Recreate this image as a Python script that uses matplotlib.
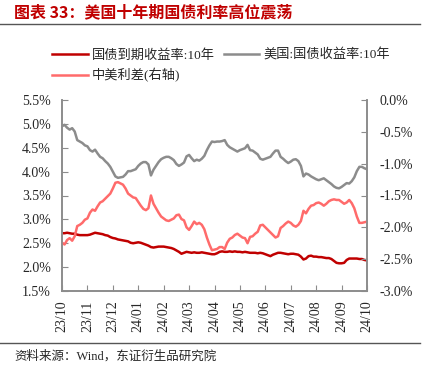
import numpy as np
import matplotlib
matplotlib.use("Agg")
import matplotlib.pyplot as plt
from matplotlib.ticker import FuncFormatter

plt.rcParams["font.family"] = ["Liberation Serif", "Noto Sans CJK SC", "DejaVu Sans"]

# month tick labels, 23/10 .. 24/10
month_labels = ["23/10", "23/11", "23/12", "24/01", "24/02", "24/03", "24/04",
                "24/05", "24/06", "24/07", "24/08", "24/09", "24/10"]

# China 10y government bond yield (%), read every 0.1 month
cn10y = [2.71, 2.71, 2.72, 2.71, 2.70, 2.70, 2.68, 2.67, 2.67, 2.67,
         2.67, 2.68, 2.70, 2.72, 2.71, 2.70, 2.69, 2.67, 2.66, 2.63,
         2.61, 2.60, 2.58, 2.57, 2.56, 2.55, 2.54, 2.51, 2.50, 2.51,
         2.52, 2.51, 2.49, 2.47, 2.45, 2.42, 2.41, 2.42, 2.43, 2.43,
         2.43, 2.42, 2.41, 2.40, 2.38, 2.35, 2.32, 2.28, 2.30, 2.32,
         2.31, 2.30, 2.31, 2.30, 2.30, 2.31, 2.30, 2.29, 2.28, 2.27,
         2.27, 2.29, 2.32, 2.33, 2.32, 2.32, 2.33, 2.32, 2.33, 2.32,
         2.32, 2.31, 2.32, 2.31, 2.30, 2.30, 2.30, 2.29, 2.30, 2.29,
         2.27, 2.25, 2.23, 2.26, 2.28, 2.30, 2.30, 2.29, 2.28, 2.27,
         2.28, 2.28, 2.27, 2.26, 2.22, 2.16, 2.18, 2.23, 2.24, 2.22,
         2.22, 2.21, 2.21, 2.20, 2.19, 2.19, 2.17, 2.13, 2.09, 2.08,
         2.08, 2.09, 2.15, 2.18, 2.18, 2.18, 2.18, 2.17, 2.17, 2.15,
         2.14]

# US 10y treasury yield (%)
us10y = [4.95, 4.98, 4.92, 4.88, 4.91, 4.84, 4.66, 4.63, 4.60, 4.55,
         4.53, 4.45, 4.42, 4.46, 4.38, 4.31, 4.28, 4.22, 4.17, 4.10,
         4.00, 3.90, 3.87, 3.88, 3.89, 3.94, 4.01, 4.01, 4.03, 4.05,
         4.12, 4.17, 4.20, 4.20, 4.15, 3.92, 4.04, 4.12, 4.20, 4.26,
         4.29, 4.31, 4.31, 4.28, 4.24, 4.16, 4.12, 4.15, 4.19, 4.32,
         4.35, 4.28, 4.22, 4.25, 4.23, 4.27, 4.33, 4.45, 4.55, 4.63,
         4.62, 4.63, 4.63, 4.64, 4.66, 4.56, 4.51, 4.48, 4.45, 4.42,
         4.45, 4.47, 4.49, 4.56, 4.45, 4.44, 4.40, 4.36, 4.27, 4.25,
         4.27, 4.29, 4.31, 4.38, 4.44, 4.44, 4.31, 4.27, 4.22, 4.18,
         4.21, 4.25, 4.26, 4.22, 4.12, 3.90, 3.96, 3.94, 3.90, 3.87,
         3.84, 3.82, 3.84, 3.86, 3.82, 3.78, 3.74, 3.69, 3.66, 3.65,
         3.68, 3.72, 3.76, 3.75, 3.80, 3.88, 4.01, 4.10, 4.10, 4.07,
         4.05]

cn10y = np.array(cn10y)
us10y = np.array(us10y)
spread = cn10y - us10y  # 中美利差
x = np.linspace(0, len(month_labels) - 1, len(cn10y))

fig = plt.figure(figsize=(4.25, 3.72), dpi=100)
ax = fig.add_axes([62 / 425, 1 - 291 / 372, 305 / 425, 191 / 372])
ax2 = ax.twinx()

l1, = ax.plot(x, cn10y, color="#C00000", lw=1.8)
l2, = ax.plot(x, us10y, color="#8C8C8C", lw=1.8)
l3, = ax2.plot(x, spread, color="#FF6B6B", lw=1.8)

ax.set_xlim(0, 12)
ax.set_ylim(1.5, 5.5)
ax.set_yticks(np.arange(1.5, 5.51, 0.5))
ax.yaxis.set_major_formatter(FuncFormatter(lambda v, p: f"{v:.1f}%"))
ax2.set_ylim(-3.0, 0.0)
ax2.set_yticks(np.arange(-3.0, 0.01, 0.5))
ax2.yaxis.set_major_formatter(FuncFormatter(lambda v, p: f"{v:.1f}%"))

ax.set_xticks(range(len(month_labels)))
ax.set_xticklabels(month_labels, rotation=90)

spine_c = "#8C8C8C"
for a in (ax, ax2):
    a.spines["top"].set_visible(False)
    for s in ("left", "right", "bottom"):
        a.spines[s].set_color(spine_c)
        a.spines[s].set_linewidth(1.2)
    a.tick_params(direction="in", length=4, color=spine_c, labelsize=10,
                  labelcolor="#262626")
ax.tick_params(axis="y", pad=8)
ax.tick_params(axis="x", pad=7)
ax2.tick_params(axis="y", pad=9)

# legend
fig.legend([l1, l3, l2], ["国债到期收益率:10年", "中美利差(右轴)", "美国:国债收益率:10年"],
           ncol=2, loc="upper left", bbox_to_anchor=(40 / 425, 1 - 37 / 372),
           frameon=False, fontsize=9.5, handlelength=2.7, handletextpad=0.3,
           columnspacing=0.7, labelspacing=0.5, labelcolor="#262626")

# title and header rule
fig.text(14 / 425, 1 - 12 / 372, "图表 33：美国十年期国债利率高位震荡", color="#C00000",
         fontsize=11.5, fontweight="bold", va="center", ha="left",
         family=["Noto Sans CJK SC", "DejaVu Sans"])
fig.add_artist(plt.Line2D([0, 420 / 425], [1 - 24 / 372, 1 - 24 / 372],
                          color="#555555", lw=1.0))

# footer
fig.add_artist(plt.Line2D([0, 420 / 425], [1 - 343 / 372, 1 - 343 / 372],
                          color="#555555", lw=1.0))
fig.text(14 / 425, 1 - 356 / 372, "资料来源：Wind，东证衍生品研究院", color="#262626",
         fontsize=9, va="center", ha="left")

fig.savefig("out.png", dpi=100, facecolor="white")
